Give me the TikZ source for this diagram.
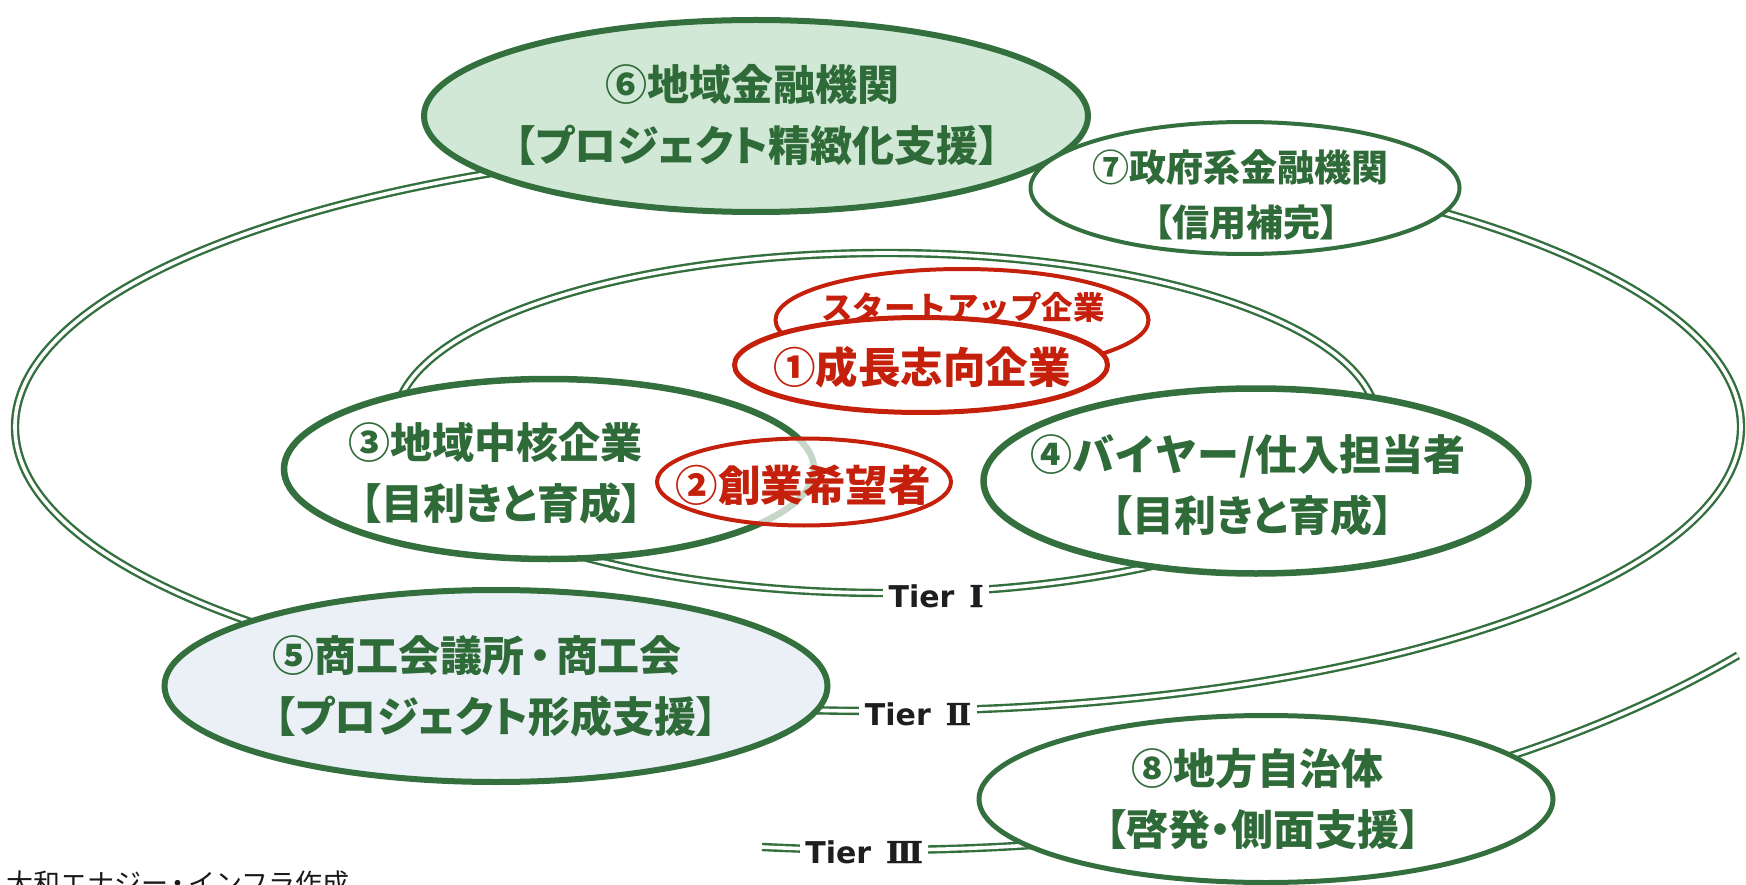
\documentclass[tikz,border=0pt]{standalone}
\usepackage{fontspec}
\usetikzlibrary{shapes.geometric}
\newfontfamily\jp{Noto Sans CJK JP}
\newfontfamily\dvs{DejaVu Sans}
\newfontfamily\dvserif{DejaVu Serif}[FakeBold=1.5]
\definecolor{gdark}{HTML}{33703E}
\definecolor{gtext}{HTML}{2F6A39}
\definecolor{gfill}{HTML}{D1E8D6}
\definecolor{bfill}{HTML}{EAF0F5}
\definecolor{redc}{HTML}{C4200B}
\definecolor{tgray}{HTML}{1E1E1E}
\tikzset{
  tier/.style={draw=gdark, double=white, line width=2.4pt, double distance=3.6pt},
  gell/.style={ellipse, draw=gdark, fill=white, inner sep=0pt},
  rell/.style={ellipse, draw=redc, fill=white, inner sep=0pt},
  gtxt/.style={text=gtext, align=center, inner sep=0pt, font=\jp\bfseries\fontsize{42}{61}\selectfont},
  rtxt/.style={text=redc, align=center, inner sep=0pt, font=\jp\bfseries\fontsize{42.5}{50}\selectfont},
  tierlab/.style={fill=white, anchor=base, inner xsep=5.5pt, inner ysep=3pt, text=tgray, font=\dvs\bfseries\fontsize{30}{34}\selectfont},
}
\newcommand{\pa}{\addfontfeatures{RawFeature=+palt}}
\newcommand{\nd}{\hspace{-0.12em}・\hspace{-0.12em}}
\newcommand{\tierword}[1]{Tier\hspace{15pt}{\dvserif\bfseries #1}\hspace{6pt}}
% two lines, second shifted right of first by #1
\newcommand{\twol}[3]{#2\hspace{#1}\\\hspace{#1}{\pa #3}}
\begin{document}
\begin{tikzpicture}[x=1pt,y=-1pt]
\clip (0,0) rectangle (1746,885);
\fill[white] (0,0) rectangle (1746,885);

% tier rings
\draw[tier] (878,427) ellipse[x radius=863, y radius=284];
\draw[tier] (886,423) ellipse[x radius=491, y radius=170];
\draw[tier] (880,330) ++(96.16:1100 and 520) arc[start angle=96.16, end angle=38.74, x radius=1100, y radius=520];

% 6 and 7
\node[gell, fill=gfill, line width=6pt, minimum width=664pt, minimum height=192pt] (e6) at (756,116) {};
\node[gtxt] (t6) at (752,115) {\twol{10pt}{⑥地域金融機関}{【プロジェクト精緻化支援】}};
\node[gell, line width=4pt, minimum width=429pt, minimum height=132pt] (e7) at (1245,188) {};
\node[gtxt, font=\jp\bfseries\fontsize{37}{55}\selectfont] (t7) at (1240,195) {\twol{13pt}{⑦政府系金融機関}{【信用補完】}};

% 5 and 8
\node[gell, fill=bfill, line width=6pt, minimum width=663pt, minimum height=192pt] (e5) at (496,686) {};
\node[gtxt] (t5) at (477,686) {\twol{38pt}{⑤商工会議所\nd 商工会}{【プロジェクト形成支援】}};
\node[gell, line width=5pt, minimum width=574pt, minimum height=167pt] (e8) at (1266,799) {};
\node[gtxt] (t8) at (1257,799) {\twol{11pt}{⑧地方自治体}{【啓発・側面支援】}};

% 3 and 4
\node[gell, line width=6.5pt, minimum width=530pt, minimum height=180pt] (e3) at (549,469) {};
\node[gtxt] (t3) at (495,473) {\twol{13pt}{③地域中核企業}{【目利きと育成】}};
\node[gell, line width=6.5pt, minimum width=545pt, minimum height=185pt] (e4) at (1256,481) {};
\node[gtxt] (t4) at (1248,485) {\twol{9pt}{④バイヤー/仕入担当者}{【目利きと育成】}};

% red ellipses
\node[rell, line width=4pt, minimum width=373pt, minimum height=102pt] (es) at (962,320) {};
\node[rtxt, font=\jp\bfseries\fontsize{31.5}{36}\selectfont] (ts) at (963,307) {スタートアップ企業};
\node[rell, line width=5pt, minimum width=373pt, minimum height=95pt] (e1) at (921,365) {};
\node[rtxt] (t1) at (922,367) {①成長志向企業};
\node[rell, line width=4pt, fill opacity=0.72, draw opacity=1, minimum width=294pt, minimum height=87pt] (e2) at (804,482) {};
\node[rtxt] (t2) at (803,485) {②創業希望者};

% tier labels
\node[tierlab] (l1) at (936,607) {\tierword{Ⅰ}};
\node[tierlab] (l2) at (918,725) {\tierword{Ⅱ}};
\node[tierlab] (l3) at (864,863) {\tierword{Ⅲ}};

% source
\node[anchor=base west, inner sep=0pt, text=black!90, font=\jp\fontsize{27}{30}\selectfont] (src) at (6,893) {大和エナジー\nd インフラ作成};
\end{tikzpicture}
\end{document}
